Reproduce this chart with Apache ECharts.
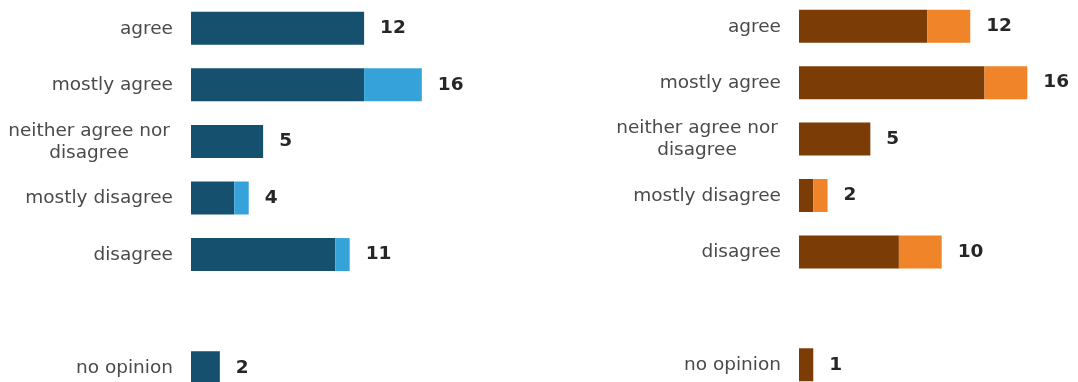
<!DOCTYPE html>
<html>
<head>
<meta charset="utf-8">
<style>
  html, body { margin: 0; padding: 0; background: #ffffff; overflow: hidden; }
  #chart { width: 1078px; height: 402px; margin-top: -2px; }
</style>
<script src="https://cdn.jsdelivr.net/npm/echarts@6/dist/echarts.min.js"></script>
</head>
<body>
<div id="chart"></div>
<script>
// Response categories (blank slot separates "no opinion" from the scale)
const categories = ['agree', 'mostly agree', 'neither agree nor disagree', 'mostly disagree', 'disagree', '', 'no opinion'];

// Left panel: base count and additional count per response
const leftBase  = [12, 12, 5, 3, 10, '-', 2];
const leftExtra = [0, 4, 0, 1, 1, '-', 0];

// Right panel: base count and additional count per response
const rightBase  = [9, 13, 5, 1, 7, '-', 1];
const rightExtra = [3, 3, 0, 1, 3, '-', 0];

function totals(base, extra) {
  return base.map((v, i) => (v === '-' ? '-' : v + extra[i]));
}
const leftTotal = totals(leftBase, leftExtra);
const rightTotal = totals(rightBase, rightExtra);

const FONT = '"DejaVu Sans", Verdana, sans-serif';

const chart = echarts.init(document.getElementById('chart'), null, { renderer: 'canvas' });

function catLabel(value) {
  if (value === 'neither agree nor disagree') {
    return '{c|neither agree nor}\n{c|disagree}';
  }
  return value;
}

function yAxisFor(gridIndex) {
  return {
    type: 'category',
    gridIndex: gridIndex,
    data: categories,
    inverse: true,
    axisLine: { show: false },
    axisTick: { show: false },
    splitLine: { show: false },
    axisLabel: {
      margin: 18,
      color: '#4a4a4a',
      fontFamily: FONT,
      fontSize: 18.5,
      lineHeight: 22,
      padding: [1, 0, 0, 0],
      formatter: catLabel,
      rich: {
        c: { width: 168, align: 'center', fontFamily: FONT, fontSize: 18.5, color: '#4a4a4a', lineHeight: 22 }
      }
    }
  };
}

function xAxisFor(gridIndex) {
  return {
    type: 'value',
    gridIndex: gridIndex,
    min: 0,
    max: 16,
    show: false,
    splitLine: { show: false }
  };
}

function seriesPair(idx, base, extra, total, darkColor, lightColor) {
  const stack = 'panel' + idx;
  return [
    {
      type: 'bar',
      xAxisIndex: idx,
      yAxisIndex: idx,
      stack: stack,
      barWidth: 33,
      data: base,
      itemStyle: { color: darkColor },
      silent: true
    },
    {
      type: 'bar',
      xAxisIndex: idx,
      yAxisIndex: idx,
      stack: stack,
      barWidth: 33,
      data: extra,
      itemStyle: { color: lightColor },
      silent: true,
      label: {
        show: true,
        position: 'right',
        distance: 16,
        color: '#262626',
        fontFamily: FONT,
        fontSize: 18.5,
        fontWeight: 'bold',
        formatter: p => String(total[p.dataIndex])
      }
    }
  ];
}

chart.setOption({
  backgroundColor: '#ffffff',
  animation: false,
  grid: [
    { left: 191, top: 2, width: 230.8, height: 396, containLabel: false },
    { left: 799, top: 0, width: 228.3, height: 395, containLabel: false }
  ],
  xAxis: [xAxisFor(0), xAxisFor(1)],
  yAxis: [yAxisFor(0), yAxisFor(1)],
  series: [
    ...seriesPair(0, leftBase, leftExtra, leftTotal, '#16506f', '#36a2da'),
    ...seriesPair(1, rightBase, rightExtra, rightTotal, '#7c3c06', '#ef8429')
  ]
});
</script>
</body>
</html>
